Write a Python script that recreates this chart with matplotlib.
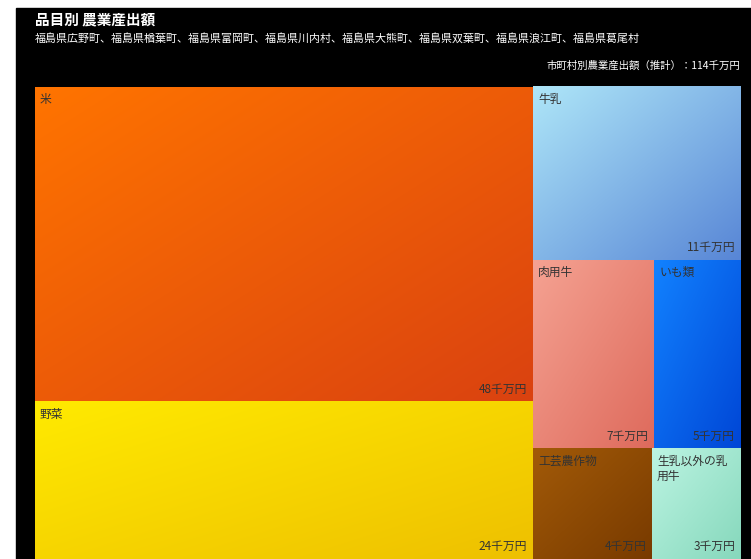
import numpy as np
import matplotlib
matplotlib.use("Agg")
import matplotlib.pyplot as plt
from matplotlib.colors import to_rgb

plt.rcParams['font.family'] = ['Noto Sans CJK JP', 'DejaVu Sans']

title = "品目別 農業産出額"
subtitle = "福島県広野町、福島県楢葉町、福島県富岡町、福島県川内村、福島県大熊町、福島県双葉町、福島県浪江町、福島県葛尾村"
total_text = "市町村別農業産出額（推計）：114千万円"

categories = ["米", "野菜", "牛乳", "肉用牛", "いも類", "工芸農作物", "生乳以外の乳用牛"]
values = [48, 24, 11, 7, 5, 4, 3]
value_labels = ["48千万円", "24千万円", "11千万円", "7千万円", "5千万円", "4千万円", "3千万円"]
colors_start = ["#ff7400", "#ffea00", "#aee6f8", "#f5a292", "#1282ff", "#a25a08", "#bcf4e2"]
colors_end = ["#da4210", "#eec000", "#5886d6", "#de6a5c", "#0046d6", "#783a00", "#86d8bc"]

W, H = 751, 559
fig = plt.figure(figsize=(W / 100, H / 100), dpi=100)
fig.patch.set_facecolor("white")
ax = fig.add_axes([0, 0, 1, 1])
ax.set_xlim(0, W)
ax.set_ylim(H, 0)
ax.axis("off")

# black panel
ax.add_patch(plt.Rectangle((16, 8), W - 16, H - 8, color="black", zorder=0))

# treemap area
X0, Y0, X1, Y1 = 35, 87, 741, 559
ratio = 0.5 * (1 + 5 ** 0.5)


def worst(areas, fixed):
    s = sum(areas)
    f = fixed * fixed * ratio
    return max(f * max(areas) / (s * s), (s * s) / (f * min(areas)))


def squarify(vals, x, y, w, h):
    scale = w * h / sum(vals)
    areas = [v * scale for v in vals]
    rects = []
    i = 0
    while i < len(areas):
        fixed = min(w, h)
        row = [areas[i]]
        j = i + 1
        while j < len(areas):
            if worst(row + [areas[j]], fixed) <= worst(row, fixed):
                row.append(areas[j])
                j += 1
            else:
                break
        s = sum(row)
        if h <= w:
            cw = s / h
            cy = y
            for a in row:
                rh = a / cw
                rects.append((x, cy, cw, rh))
                cy += rh
            x += cw
            w -= cw
        else:
            rh = s / w
            cx = x
            for a in row:
                rw = a / rh
                rects.append((cx, y, rw, rh))
                cx += rw
            y += rh
            h -= rh
        i = j
    return rects


rects = squarify(values, X0, Y0, X1 - X0, Y1 - Y0)


def gradient(c1, c2, n=64):
    a = np.array(to_rgb(c1))
    b = np.array(to_rgb(c2))
    yy, xx = np.mgrid[0:n, 0:n] / (n - 1)
    t = (xx + yy) / 2
    return a[None, None, :] * (1 - t[..., None]) + b[None, None, :] * t[..., None]


def wrap(text, width, px=12.0):
    n = max(1, int((width - 10) / px))
    return "\n".join(text[k:k + n] for k in range(0, len(text), n))


for (x, y, w, h), cat, vl, c1, c2 in zip(rects, categories, value_labels, colors_start, colors_end):
    ax.imshow(gradient(c1, c2), extent=(x, x + w, y + h, y), aspect="auto",
              interpolation="bilinear", zorder=1)
    ax.text(x + 5, y + 6, wrap(cat, w), ha="left", va="top", fontsize=8.5,
            color="#333333", zorder=2, linespacing=1.15)
    ax.text(x + w - 6, y + h - 6, vl, ha="right", va="bottom", fontsize=8.5,
            color="#333333", zorder=2)

ax.set_xlim(0, W)
ax.set_ylim(H, 0)

ax.text(35, 19, title, ha="left", va="center", fontsize=10.5, fontweight="bold", color="white")
ax.text(35, 38, subtitle, ha="left", va="center", fontsize=7.9, color="white")
ax.text(740, 66, total_text, ha="right", va="center", fontsize=7.5, color="white")

fig.savefig("out.png", dpi=100, facecolor="white")
